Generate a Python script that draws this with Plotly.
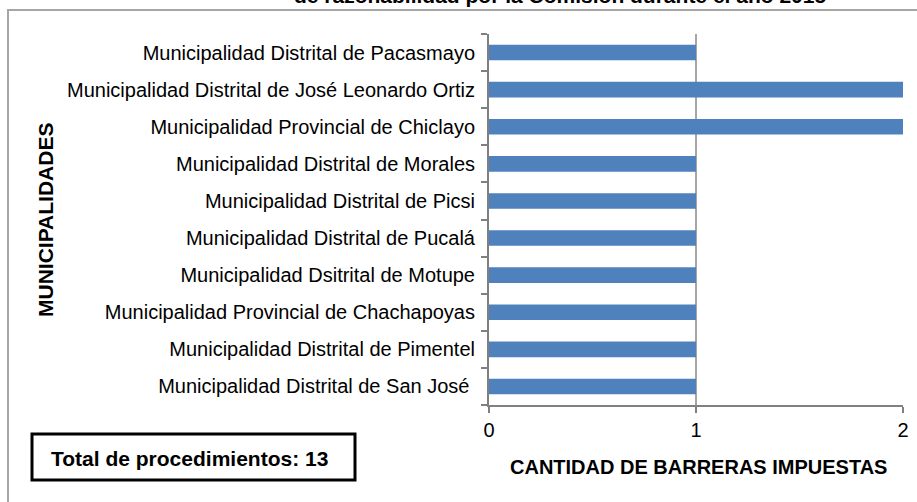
import plotly.graph_objects as go

municipalidades = [
    "Municipalidad Distrital de San José ",
    "Municipalidad Distrital de Pimentel",
    "Municipalidad Provincial de Chachapoyas",
    "Municipalidad Dsitrital de Motupe",
    "Municipalidad Distrital de Pucalá",
    "Municipalidad Distrital de Picsi",
    "Municipalidad Distrital de Morales",
    "Municipalidad Provincial de Chiclayo",
    "Municipalidad Distrital de José Leonardo Ortiz",
    "Municipalidad Distrital de Pacasmayo",
]
barreras = [1, 1, 1, 1, 1, 1, 1, 2, 2, 1]
x_ticks = [0, 1, 2]

W, H = 917, 502
L, R, T, B = 489, 14, 34, 97
PW, PH = W - L - R, H - T - B

def px(x):
    return (x - L) / PW

def py(y):
    return (H - B - y) / PH

FONT = "Liberation Sans, Arial, sans-serif"

fig = go.Figure(go.Bar(
    x=barreras, y=municipalidades, orientation="h",
    marker=dict(color="#4F81BD", line=dict(width=0)),
    width=0.42, cliponaxis=False,
))

fig.update_layout(
    width=W, height=H,
    margin=dict(l=L, r=R, t=T, b=B, autoexpand=False),
    paper_bgcolor="white", plot_bgcolor="white",
    font=dict(family=FONT, size=20, color="black"),
    showlegend=False,
    xaxis=dict(
        range=[0, 2], tickvals=x_ticks, ticktext=[str(v) for v in x_ticks],
        showgrid=True, gridcolor="#A6A6A6", gridwidth=2,
        showline=True, linecolor="#808080", linewidth=2,
        ticks="outside", ticklen=6, tickcolor="#808080", tickwidth=2,
        tickfont=dict(size=20), zeroline=False, automargin=False,
        fixedrange=True,
    ),
    yaxis=dict(
        range=[-0.5, 9.5],
        showline=True, linecolor="#808080", linewidth=2,
        ticks="outside", ticklen=6, tickcolor="#808080", tickwidth=2,
        tickson="boundaries", showgrid=False, automargin=False,
        tickfont=dict(size=20), ticklabelstandoff=8,
        fixedrange=True,
    ),
    shapes=[
        dict(type="rect", xref="paper", yref="paper",
             x0=px(8), x1=px(940), y0=py(530), y1=py(10),
             line=dict(color="#A6A6A6", width=2), layer="below"),
        dict(type="rect", xref="paper", yref="paper",
             x0=px(32), x1=px(355), y0=py(480), y1=py(434),
             line=dict(color="black", width=3), fillcolor="white"),
    ],
    annotations=[
        dict(text="<b>MUNICIPALIDADES</b>", xref="paper", yref="paper",
             x=px(45), y=py(220), textangle=-90, showarrow=False,
             font=dict(size=21), xanchor="center", yanchor="middle"),
        dict(text="<b>CANTIDAD DE BARRERAS IMPUESTAS</b>", xref="paper", yref="paper",
             x=px(698), y=py(467), showarrow=False,
             font=dict(size=20), xanchor="center", yanchor="middle"),
        dict(text="<b>Total de procedimientos: 13</b>", xref="paper", yref="paper",
             x=px(189), y=py(458), showarrow=False,
             font=dict(size=21), xanchor="center", yanchor="middle"),
        dict(text="<b>de razonabilidad por la Comisión durante el año 2015</b>",
             xref="paper", yref="paper", x=px(560), y=py(9),
             showarrow=False, font=dict(size=21),
             xanchor="center", yanchor="bottom"),
    ],
)

fig.write_html(
    "out.html",
    config={"displayModeBar": False},
    post_script="document.body.style.margin='0';document.body.style.overflow='hidden';",
)
